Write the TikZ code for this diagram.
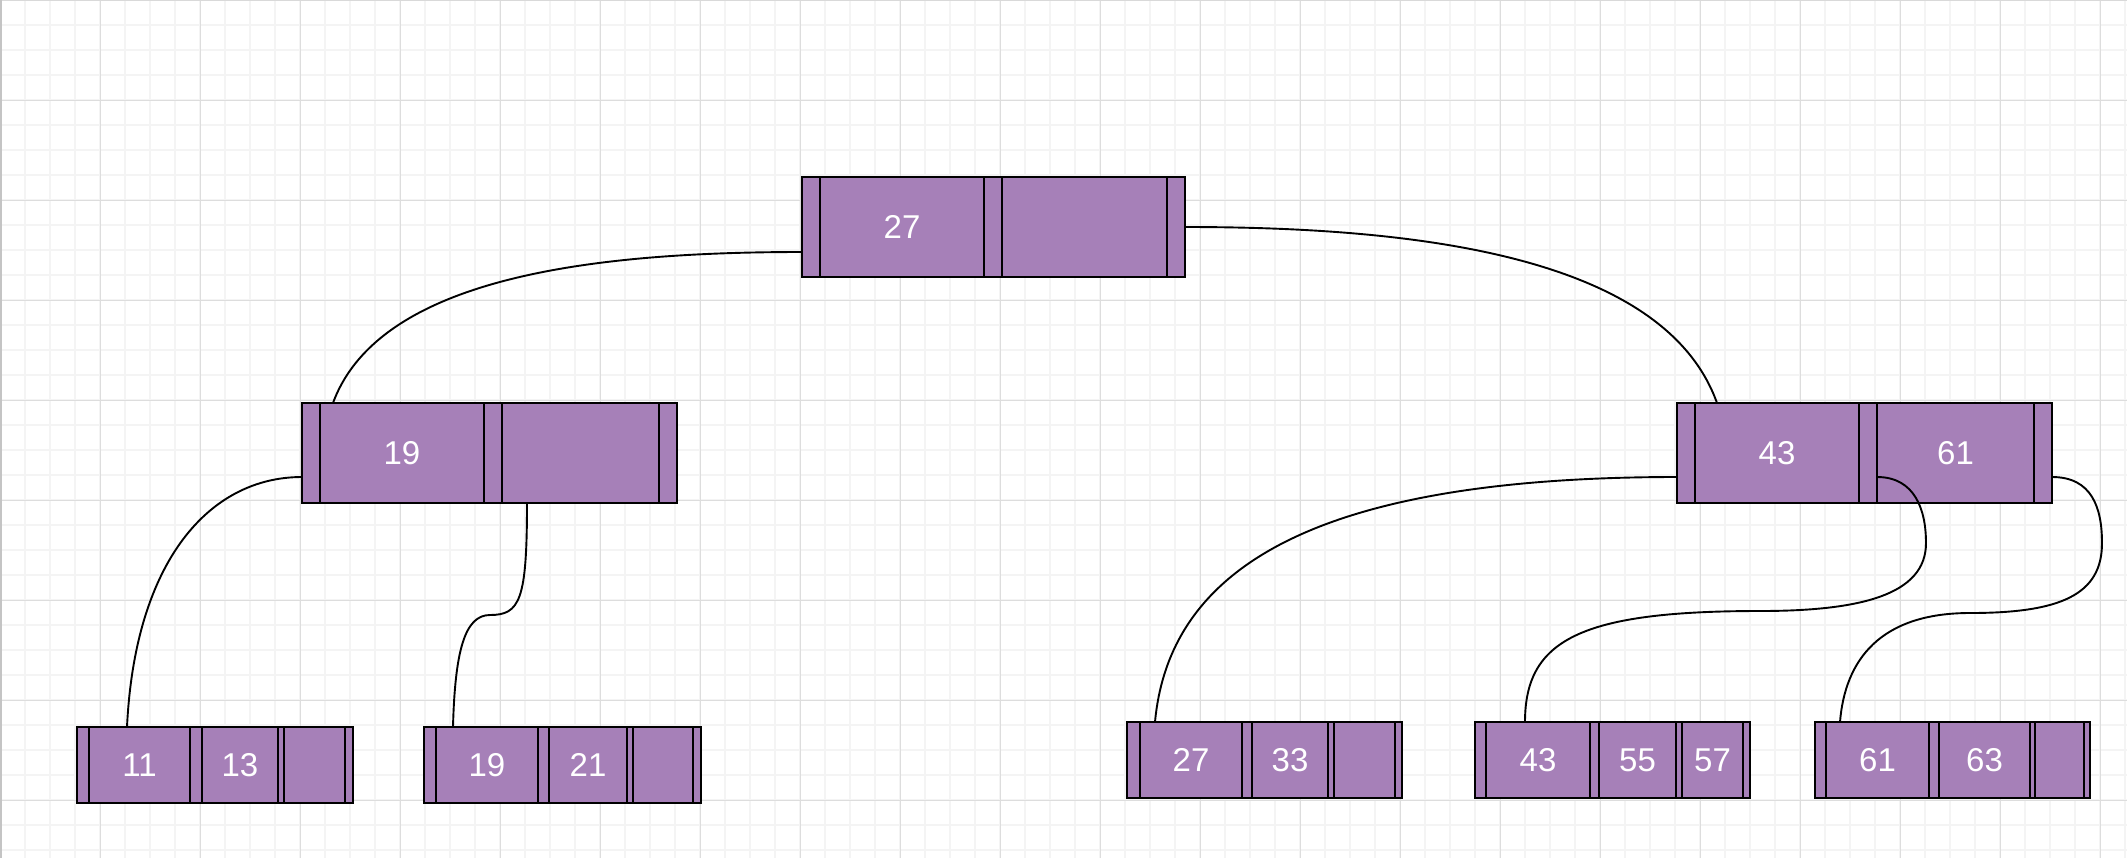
\documentclass[tikz,border=0pt]{standalone}
\usepackage{fontspec}
\setmainfont{Liberation Sans}
\usetikzlibrary{calc}

\definecolor{keyfill}{HTML}{A680B8}
\definecolor{gridminor}{HTML}{F4F4F4}
\definecolor{gridmajor}{HTML}{DDDDDD}
\definecolor{frameleft}{HTML}{C4C4C4}
\definecolor{frametop}{HTML}{D9D9D9}

\tikzset{
  cellbox/.style={draw=black, fill=keyfill, line width=1.1pt, inner sep=0pt,
    outer sep=0pt, text=white, font=\fontsize{16.5}{16.5}\selectfont},
  link/.style={draw=black, line width=0.95pt},
  minorline/.style={draw=gridminor, line width=0.8pt},
  majorline/.style={draw=gridmajor, line width=0.5pt},
}

% one cell of a B-tree node: name, left, right, top, bottom (pixels), label
\newcommand\bcell[6]{%
  \node[cellbox, minimum width={(#3-#2)*0.5pt}, minimum height={(#5-#4)*0.5pt}]
    (#1) at ({(#2+#3)/2},{(#4+#5)/2}) {#6};}

\begin{document}
\begin{tikzpicture}[x=0.5pt, y=-0.5pt]
\useasboundingbox (0,0) rectangle (2127,858);
\fill[white] (0,0) rectangle (2127,858);

% background grid
\foreach \gx in {25,50,...,2125} \draw[minorline] (\gx,0) -- (\gx,858);
\foreach \gy in {25,50,...,850} \draw[minorline] (0,\gy) -- (2127,\gy);
\foreach \gx in {100,200,...,2100} \draw[majorline] (\gx,0) -- (\gx,858);
\foreach \gy in {100,200,...,800} \draw[majorline] (0,\gy) -- (2127,\gy);
\draw[frametop, line width=0.6pt] (0,0.6) -- (2127,0.6);
\draw[frameleft, line width=1.2pt] (1.2,0) -- (1.2,858);

% root
\bcell{r-p0}{802}{820}{177}{277}{}
\bcell{r-k1}{820}{984}{177}{277}{27}
\bcell{r-p1}{984}{1002}{177}{277}{}
\bcell{r-k2}{1002}{1167}{177}{277}{}
\bcell{r-p2}{1167}{1185}{177}{277}{}

% second level, left
\bcell{a-p0}{302}{320}{403}{503}{}
\bcell{a-k1}{320}{484}{403}{503}{19}
\bcell{a-p1}{484}{502}{403}{503}{}
\bcell{a-k2}{502}{659}{403}{503}{}
\bcell{a-p2}{659}{677}{403}{503}{}

% second level, right
\bcell{b-p0}{1677}{1695}{403}{503}{}
\bcell{b-k1}{1695}{1859}{403}{503}{43}
\bcell{b-p1}{1859}{1877}{403}{503}{}
\bcell{b-k2}{1877}{2034}{403}{503}{61}
\bcell{b-p2}{2034}{2052}{403}{503}{}

% leaves
\bcell{l1-p0}{77}{89}{727}{803}{}
\bcell{l1-k1}{89}{190}{727}{803}{11}
\bcell{l1-p1}{190}{202}{727}{803}{}
\bcell{l1-k2}{202}{278}{727}{803}{13}
\bcell{l1-p2}{278}{284}{727}{803}{}
\bcell{l1-k3}{284}{345}{727}{803}{}
\bcell{l1-p3}{345}{353}{727}{803}{}

\bcell{l2-p0}{424}{436}{727}{803}{}
\bcell{l2-k1}{436}{538}{727}{803}{19}
\bcell{l2-p1}{538}{549}{727}{803}{}
\bcell{l2-k2}{549}{627}{727}{803}{21}
\bcell{l2-p2}{627}{633}{727}{803}{}
\bcell{l2-k3}{633}{693}{727}{803}{}
\bcell{l2-p3}{693}{701}{727}{803}{}

\bcell{l3-p0}{1127}{1140}{722}{798}{}
\bcell{l3-k1}{1140}{1242}{722}{798}{27}
\bcell{l3-p1}{1242}{1252}{722}{798}{}
\bcell{l3-k2}{1252}{1328}{722}{798}{33}
\bcell{l3-p2}{1328}{1334}{722}{798}{}
\bcell{l3-k3}{1334}{1395}{722}{798}{}
\bcell{l3-p3}{1395}{1402}{722}{798}{}

\bcell{l4-p0}{1475}{1486}{722}{798}{}
\bcell{l4-k1}{1486}{1590}{722}{798}{43}
\bcell{l4-p1}{1590}{1599}{722}{798}{}
\bcell{l4-k2}{1599}{1676}{722}{798}{55}
\bcell{l4-p2}{1676}{1682}{722}{798}{}
\bcell{l4-k3}{1682}{1743}{722}{798}{57}
\bcell{l4-p3}{1743}{1750}{722}{798}{}

\bcell{l5-p0}{1815}{1826}{722}{798}{}
\bcell{l5-k1}{1826}{1929}{722}{798}{61}
\bcell{l5-p1}{1929}{1939}{722}{798}{}
\bcell{l5-k2}{1939}{2030}{722}{798}{63}
\bcell{l5-p2}{2030}{2035}{722}{798}{}
\bcell{l5-k3}{2035}{2084}{722}{798}{}
\bcell{l5-p3}{2084}{2090}{722}{798}{}

% bends of the S-shaped links
\coordinate (a-bend) at (490,615);
\coordinate (b-bend1) at (1926,543);
\coordinate (b-bend2) at (1760,611);
\coordinate (b-bend3) at (2102,543);
\coordinate (b-bend4) at (1970,613);

% links between parents and children
\draw[link] ($(r-p0.west)+(0,25)$) .. controls +(-202,0) and +(47,-128) .. ($(a-k1.north west)+(13,0)$);
\draw[link] (r-p2.east) .. controls +(229,0) and +(-53,-148) .. ($(b-k1.north west)+(22,0)$);
\draw[link] ($(a-p0.west)+(0,24)$) .. controls +(-92,0) and +(8,-167) .. ($(l1-k1.north west)+(38,0)$);
\draw[link] ($(a-k2.south west)+(25,0)$) .. controls +(0,97) and +(30,0) .. (a-bend)
  .. controls +(-25,0) and +(2,-77) .. ($(l2-k1.north west)+(17,0)$);
\draw[link] ($(b-p0.west)+(0,24)$) .. controls +(-347,0) and +(15,-162) .. ($(l3-k1.north west)+(15,0)$);
\draw[link] ($(b-p1.east)+(0,24)$) .. controls +(38,0) and +(0,-33) .. (b-bend1)
  .. controls +(0,52) and +(100,0) .. (b-bend2)
  .. controls +(-180,0) and +(0,-82) .. ($(l4-k1.north west)+(39,0)$);
\draw[link] ($(b-p2.east)+(0,24)$) .. controls +(40,0) and +(0,-35) .. (b-bend3)
  .. controls +(0,52) and +(90,0) .. (b-bend4)
  .. controls +(-90,0) and +(5,-62) .. ($(l5-k1.north west)+(14,0)$);
\end{tikzpicture}
\end{document}
